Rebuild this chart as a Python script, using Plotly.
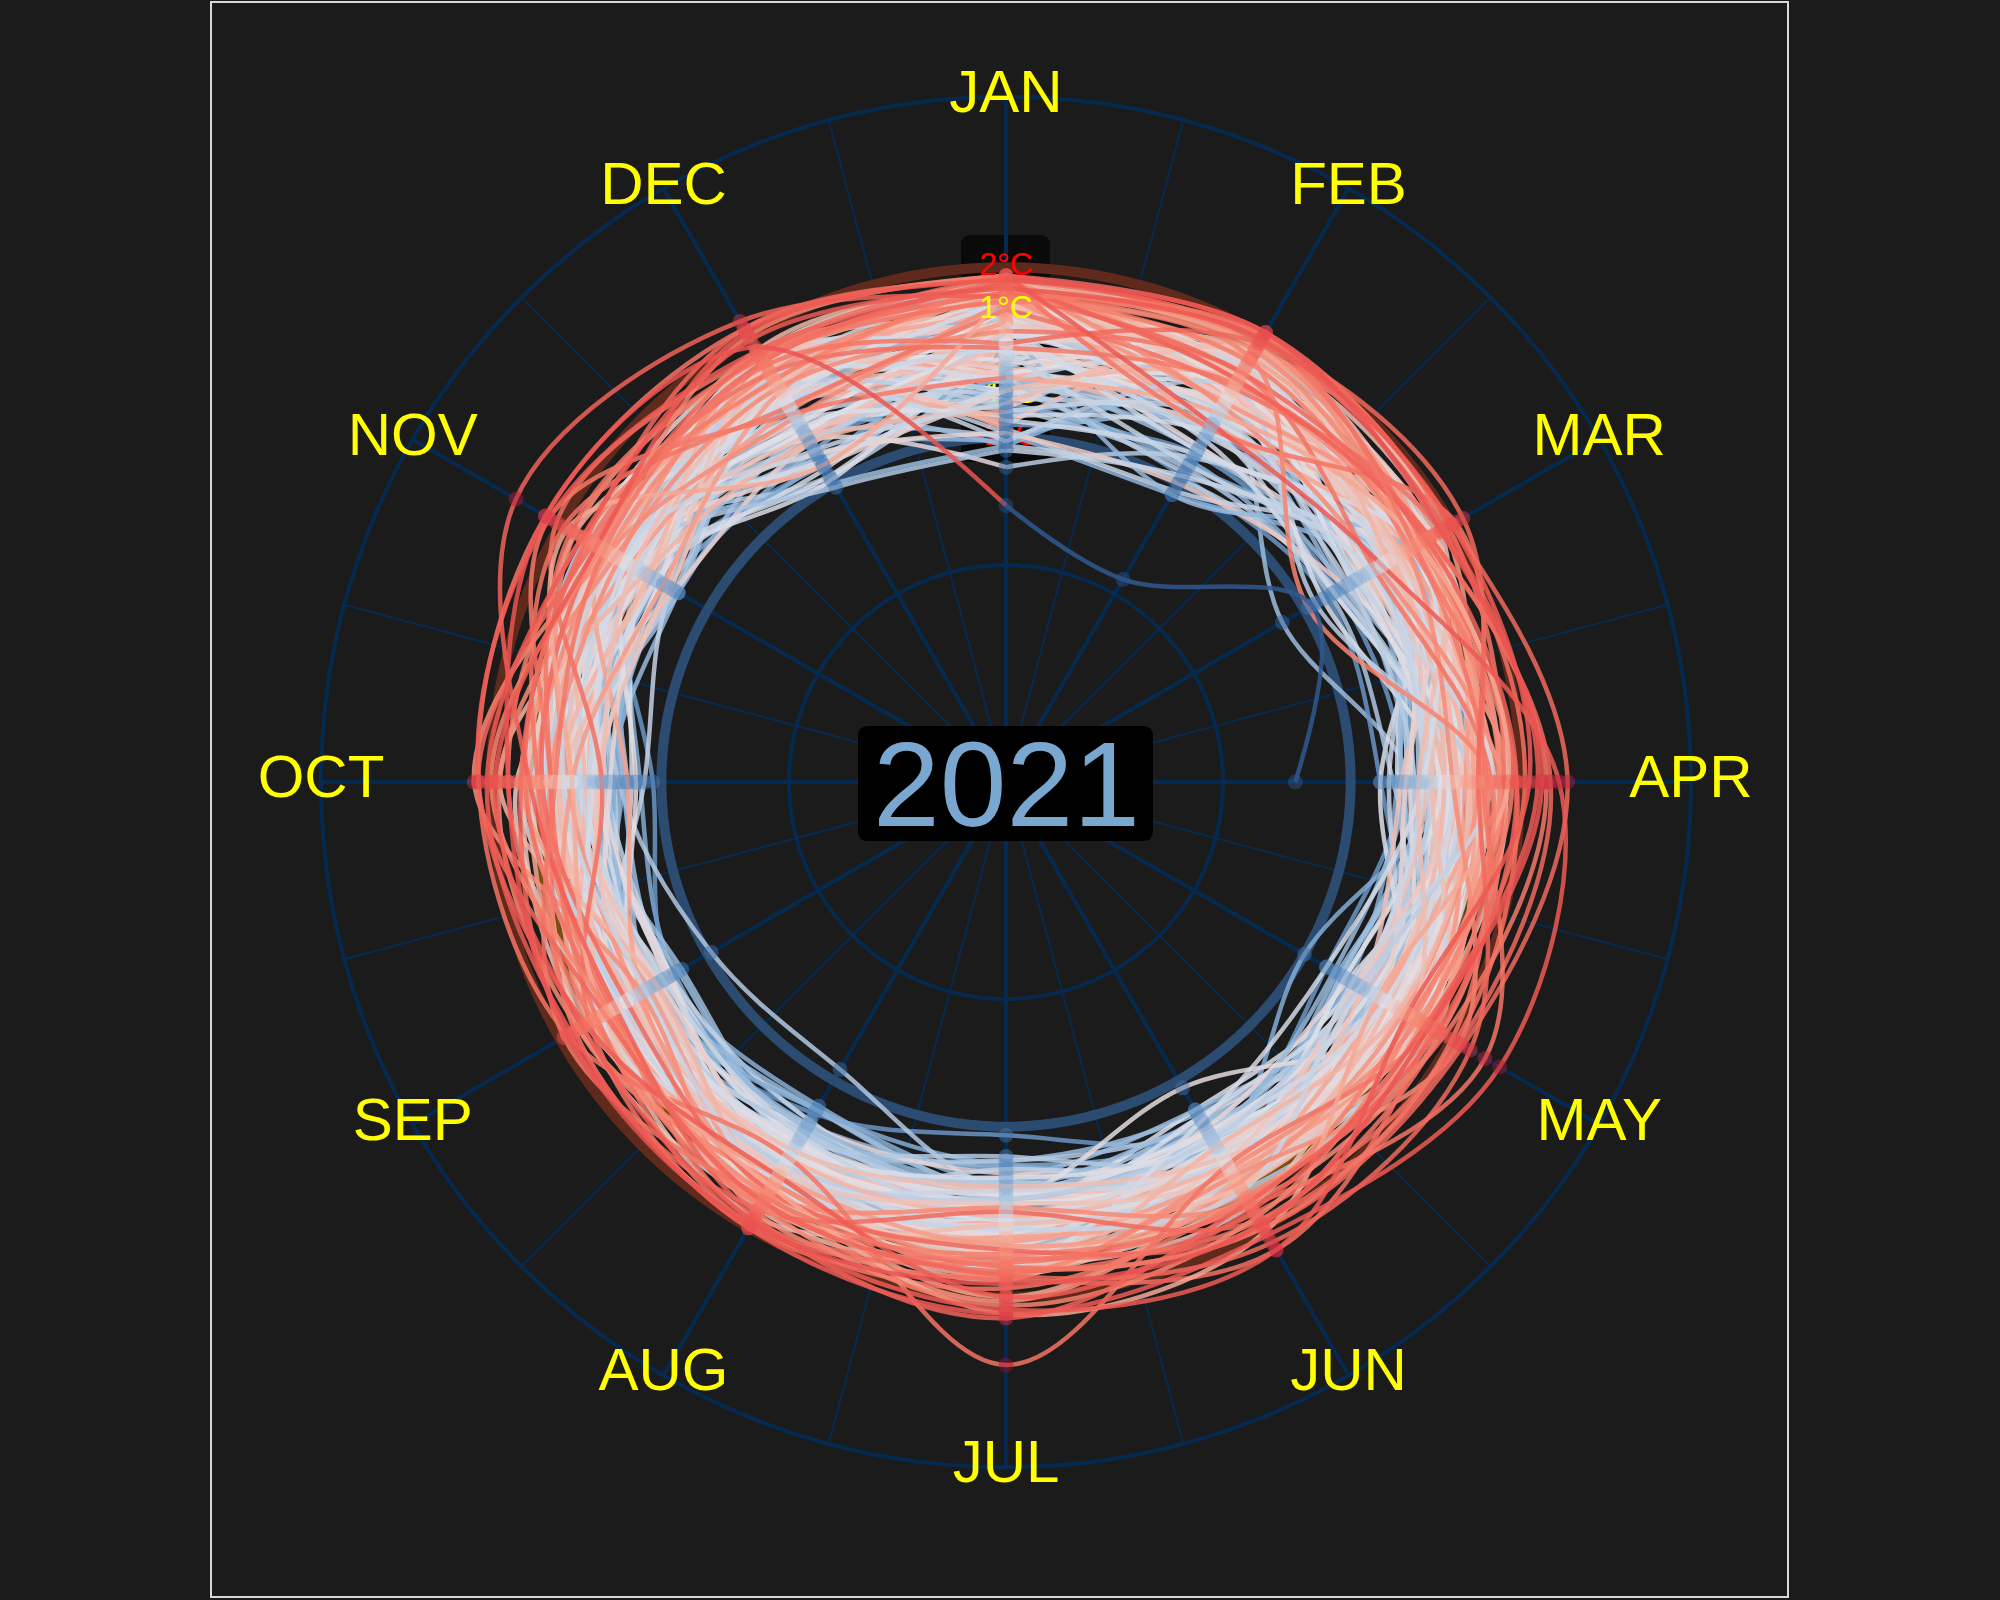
import numpy as np
import plotly.graph_objects as go
from plotly.colors import sample_colorscale

# ---------------- data ----------------
years = list(range(1881, 2022))
month_names = ["JAN", "FEB", "MAR", "APR", "MAY", "JUN",
               "JUL", "AUG", "SEP", "OCT", "NOV", "DEC"]

# monthly temperature anomalies (°C), one value per year 1881..2020 (+2021 for Jan-Apr)
jan = [-1.5, 0.5, 0.8, 0.6, -0.9, -1.2, -1.7, -0.6, -0.8, 0.6,
       -2.2, -0.7, -2.1, -1.0, -1.9, -0.5, -1.1, 1.1, 0.9, 0.0,
       -0.4, 0.2, 0.6, -0.9, 0.1, 0.4, -0.3, -1.0, -0.6, 0.6,
       0.1, 0.7, 0.9, -0.2, 0.5, 1.6, -1.3, 0.0, 0.8, 1.3,
       1.2, -0.5, 0.9, -1.1, 1.5, 0.2, 0.6, 0.3, -1.8, 1.4,
       0.0, 1.3, -0.4, 0.8, 0.6, 1.2, -0.6, 0.7, 0.4, -2.7,
       -2.0, -2.2, 0.9, 1.4, -1.7, 0.5, -1.9, 1.7, 1.0, -0.5,
       0.6, 0.1, -0.2, -0.6, 0.8, 0.7, 1.1, -0.3, -0.4, 0.5,
       0.2, 0.4, -2.3, -0.9, 1.0, -1.3, 0.6, -0.5, 0.3, -0.8,
       0.4, 0.9, 1.4, 1.6, 1.7, 1.2, 0.2, 0.6, -1.5, -0.7,
       0.1, -0.9, 1.5, 0.9, -1.6, 0.0, -2.1, 1.7, 1.6, 1.7,
       0.7, 1.2, 1.6, 1.3, 1.6, -1.4, -1.2, 1.5, 1.7, 1.4,
       1.3, 1.2, 1.0, 1.4, 1.7, 0.5, 1.8, 1.7, 0.1, -0.6,
       1.4, 1.7, 1.2, 1.8, 1.6, 1.3, 0.2, 1.8, 1.5, 1.7,
       -3.6]
feb = [0.0, 0.3, 0.1, 0.9, 0.6, -1.4, -1.2, -1.8, -1.5, 0.2,
       0.3, -0.2, 0.4, 0.5, -2.3, 0.0, 0.7, 0.6, 0.2, 0.5,
       -1.1, -0.6, 1.3, 0.2, 0.6, 0.4, -0.7, 0.5, -1.0, 0.9,
       0.4, 0.8, 0.9, 1.4, 0.8, 0.6, -1.6, 0.5, -0.3, 1.3,
       0.2, -0.7, 0.5, -0.4, 1.1, 1.5, 0.0, -0.2, -2.2, 0.3,
       -0.5, -0.6, -0.2, 0.4, 1.0, 0.7, 1.2, 0.6, 0.9, -1.3,
       -0.4, -1.9, 0.2, 0.6, 1.6, -1.0, -2.0, 0.7, 1.3, 1.5,
       0.5, -0.3, 0.1, -1.7, 0.4, -2.3, 1.1, 0.9, -0.5, 0.3,
       1.6, 0.2, -1.8, 0.6, -0.4, 1.3, 1.2, 0.9, -0.8, -0.6,
       0.7, 0.8, 0.2, 1.1, 0.5, 1.1, 1.3, -0.1, -0.6, 1.2,
       0.1, 0.8, -0.4, 0.3, -1.2, -1.5, 0.6, 0.9, 1.7, 1.9,
       -1.1, 1.4, 0.5, 0.2, 1.7, -0.2, 1.6, 1.7, 0.8, 1.8,
       1.6, 2.0, 0.6, 1.3, 0.1, 1.0, 2.1, 1.9, 0.7, -0.1,
       1.0, -0.5, 1.4, 1.9, 0.8, 2.0, 1.8, -0.4, 1.9, 2.1,
       -4.6]
mar = [0.2, 0.7, -2.6, 0.6, -0.6, -1.2, -1.1, -1.4, -0.2, 0.3,
       -0.7, -1.0, 0.5, 0.2, -0.1, 0.6, 0.3, -0.3, -0.9, 0.0,
       -0.5, 0.7, 1.3, -0.3, 0.4, -0.4, 0.1, 0.2, -0.9, 0.6,
       0.4, 1.2, 1.0, 0.8, 0.1, -0.2, -1.3, 0.3, 0.2, 1.1,
       0.9, 0.1, 0.3, 0.2, 0.5, 0.6, 0.8, 1.0, 0.4, 0.7,
       -1.2, -0.1, 1.1, 0.6, 0.9, 0.7, -0.3, 1.4, -0.6, 0.5,
       -0.4, -1.1, 1.2, 0.8, 1.3, -0.2, -0.9, 1.1, 0.2, 1.0,
       -0.2, 0.3, 0.6, 0.1, -1.5, 0.8, 1.5, -0.4, 1.2, 0.9,
       1.3, -0.6, 0.2, -0.7, -0.1, 0.4, 1.0, 0.9, -1.2, -0.8,
       -0.5, 1.2, 0.6, 1.0, 0.2, 0.3, 1.4, 0.9, 0.5, 0.1,
       1.5, 0.4, 0.7, 0.6, 0.5, -0.2, -1.7, 0.6, 1.6, 1.8,
       1.0, 1.2, 0.5, 1.4, 0.3, -0.6, 1.7, 1.3, 1.1, 1.0,
       0.8, 1.9, 1.7, 0.9, 0.0, -0.1, 2.0, 1.2, 1.4, 1.1,
       1.4, 2.1, -1.9, 1.8, 1.3, 1.0, 2.3, 0.1, 2.0, 1.7,
       -1.8]
apr = [-0.9, 0.1, -0.6, -0.1, 0.2, 0.3, -0.8, -1.3, -0.5, 0.1,
       -0.6, 0.0, 0.7, 0.8, 0.4, -0.2, 0.1, -0.3, 0.3, -0.7,
       -0.2, 0.3, -1.3, 0.9, 0.5, -0.1, -0.4, -0.9, 0.8, 0.2,
       0.6, 0.3, 0.1, 1.0, 0.2, 0.4, -1.0, -0.2, 0.3, 0.5,
       0.1, -0.8, 0.3, 0.2, -0.1, 1.2, 0.9, 0.4, -1.1, 0.6,
       0.7, 0.4, 1.1, 1.3, 0.5, 0.2, 0.9, 0.3, 0.8, 0.6,
       -0.7, 0.2, 1.5, 1.0, 1.2, 1.4, 1.6, 0.1, 1.7, 0.0,
       0.4, 1.0, 0.3, -0.2, 0.1, -0.4, -0.8, 0.5, 0.9, 0.8,
       1.6, 0.4, 0.6, 0.7, -0.1, 1.1, 0.2, 1.0, 0.5, -0.5,
       0.1, 0.3, -0.6, 0.4, -0.2, 0.5, -0.7, 0.3, 0.2, -0.3,
       0.8, 0.2, 1.0, 0.6, 0.4, -0.2, 0.9, 0.5, -0.1, 0.7,
       -0.3, 0.9, 1.2, 1.0, 0.8, 1.3, -0.4, 1.1, 1.5, 1.6,
       0.4, 1.6, 2.1, 1.8, 1.5, 1.3, 3.1, 1.9, 2.6, 1.7,
       2.7, 1.1, 1.3, 2.4, 1.9, 1.2, 1.0, 2.9, 2.2, 2.5,
       -3.3]
may = [-0.8, -0.2, -0.5, 0.3, -1.1, -0.7, -1.4, 0.5, 0.7, 0.0,
       -0.1, 0.1, -0.4, 0.7, 0.2, -1.0, -0.9, -0.6, -0.5, -0.2,
       -1.0, -2.0, 0.4, 0.7, -0.1, 0.9, 0.3, 0.6, 0.0, 0.2,
       0.5, 0.3, 0.8, -0.6, 0.2, 1.1, 1.5, 1.3, 0.4, 0.9,
       0.6, 1.2, -0.4, 0.4, 0.3, -0.8, 0.1, 0.7, 0.2, 0.8,
       0.5, 0.2, 0.9, -0.3, -0.5, 0.8, 1.4, 0.0, 0.1, 0.3,
       -1.2, 0.6, 0.9, 0.7, 1.2, 1.0, 1.3, 0.8, 0.2, 0.6,
       0.0, 0.7, 1.0, 0.3, -0.9, 0.1, -0.4, 0.4, 0.6, 0.9,
       -0.6, -0.2, 0.3, 1.1, -0.3, 0.5, 0.2, 0.4, 1.0, -0.1,
       0.8, 0.3, 0.5, -0.2, -0.4, 0.1, 0.0, 0.2, 0.7, -0.5,
       0.9, 0.3, 0.1, -0.6, 0.2, 1.4, -0.5, 1.3, 1.6, 1.2,
       -1.4, 1.5, 1.2, 0.7, 0.6, -0.7, 0.9, 1.4, 1.1, 1.7,
       2.2, 1.7, 1.5, 0.9, 1.2, 1.4, 2.3, 2.1, 1.8, 0.0,
       2.2, 2.9, 1.0, 1.3, 1.6, 2.0, 2.5, 3.3, 0.8, 1.4]
jun = [-0.6, -0.9, -0.1, -1.0, 0.1, -0.8, -0.2, -0.5, 0.6, -1.1,
       -0.3, -0.7, 0.0, -0.4, -0.1, 0.3, 0.2, -1.2, -0.6, 0.1,
       0.1, -0.2, -0.5, 0.3, 0.6, 0.0, -0.8, -0.1, -1.2, 0.5,
       0.2, -0.7, -0.3, 0.1, 0.4, -0.6, 1.0, -0.2, 0.2, 0.7,
       0.3, -0.9, -1.0, 0.2, 0.5, -0.7, -0.1, 0.3, 0.4, 0.8,
       0.6, 0.1, -0.1, 0.7, 0.5, 0.4, 0.8, 0.2, 0.3, 0.9,
       -0.4, 0.2, 0.5, 0.1, 0.6, 0.9, 1.2, 0.3, -0.5, 1.3,
       0.4, 0.7, -1.8, 0.0, 0.2, -0.3, 0.9, 0.5, 0.8, 0.6,
       0.3, -0.5, 0.4, 0.6, 0.2, 0.8, 0.5, 0.1, -0.4, 0.7,
       -0.2, 0.4, 0.3, -0.6, 0.6, 1.4, -0.1, -0.3, 0.5, 0.2,
       0.0, 0.9, 0.7, 0.2, -0.5, 0.6, -0.4, 0.3, 0.1, 0.5,
       -0.9, 1.1, 0.6, 0.8, -0.2, 1.0, 0.9, 1.2, 0.4, 1.3,
       0.6, 1.8, 2.6, 1.3, 1.9, 0.3, 2.0, 1.6, 1.2, 2.1,
       1.8, 1.4, 1.7, 1.5, 1.3, 2.0, 2.4, 2.2, 2.6, 1.9]
jul = [-1.1, -0.5, -0.2, 0.3, 0.0, -0.7, -0.1, -1.8, -0.6, -1.2,
       -1.0, -0.3, -0.5, 0.1, -0.8, -0.4, 0.0, -0.1, 0.5, 0.3,
       0.9, -1.1, -0.4, 1.0, 0.7, -0.3, -1.2, 0.1, -0.8, -0.6,
       1.2, -0.5, -0.9, -0.3, 0.0, -0.4, 0.5, -0.2, -1.0, 0.1,
       0.8, -0.6, 0.3, -0.2, 0.1, 0.5, 0.4, 0.7, 0.2, 0.0,
       0.3, 0.6, 0.2, 1.0, 0.8, 0.1, 0.5, -0.3, 0.4, -0.1,
       0.9, 0.3, 0.7, 0.2, 1.1, 1.0, 1.3, -0.5, 0.6, 0.8,
       0.1, 1.2, -0.3, -1.3, 0.7, -0.6, 0.4, 0.6, 1.5, -0.4,
       -0.5, -0.3, 0.5, 0.2, -0.7, -0.1, 0.6, -0.2, 0.8, 0.0,
       0.5, 0.1, 0.4, -0.4, 0.6, 1.2, 0.0, -0.8, -0.1, -0.5,
       0.3, 1.4, 2.0, 0.9, 0.4, 0.2, -0.3, 0.1, -0.6, 0.7,
       1.3, 0.6, -0.2, 2.1, 1.6, 0.4, 0.3, 0.8, 1.5, -0.1,
       1.5, 1.1, 1.6, 1.0, 1.3, 3.6, 0.9, 1.4, 1.8, 2.4,
       0.0, 1.2, 2.2, 2.0, 2.5, 1.3, 1.5, 2.4, 2.3, 1.7]
aug = [-0.7, -1.2, -0.1, 0.5, -0.6, -0.2, -0.9, -1.1, -1.3, -0.5,
       -0.8, 0.4, -0.4, -0.9, 0.1, -1.2, 0.3, 0.2, 0.0, -0.3,
       -0.3, -1.2, -0.7, 0.6, 0.2, 0.5, -0.5, 0.3, 0.1, -0.4,
       1.5, -2.3, -0.8, 0.2, -0.4, -0.6, 0.0, 0.4, 0.6, -0.1,
       0.2, -0.7, 0.8, -0.2, -0.3, 0.4, 0.1, 0.3, 0.5, 0.6,
       0.4, 1.1, 0.7, 0.2, 0.9, 0.6, 0.8, 0.5, 0.3, -0.2,
       0.0, 0.9, 1.0, 1.3, 0.7, 0.4, 1.4, 0.2, 0.1, 0.6,
       0.3, 0.8, 0.1, -0.4, 1.0, -0.8, 0.5, -0.1, 1.2, -0.3,
       0.2, -0.6, 0.4, 0.1, -0.2, -0.4, 0.3, 0.0, 0.2, 0.5,
       0.6, 0.2, 1.0, -0.3, 1.2, 0.9, 0.1, -0.2, -0.4, 0.5,
       0.7, 1.3, 0.9, 0.6, 0.2, -0.5, 0.3, 0.1, -0.1, 1.0,
       0.8, 1.4, 0.5, 1.1, 0.9, 0.7, 1.7, 0.6, 0.8, 1.1,
       1.6, 1.8, 2.0, 1.4, 0.8, 0.1, 1.0, 1.3, 1.9, 0.9,
       1.5, 1.9, 1.4, 0.6, 1.7, 1.2, 1.3, 2.0, 1.8, 1.9]
sep = [-1.1, -0.2, 0.0, 0.3, -0.5, 0.1, -1.0, -0.1, -0.8, -1.3,
       0.2, -0.1, -1.2, -1.0, 0.7, -0.6, -0.4, 0.5, 0.0, -0.7,
       -0.6, -0.2, 0.4, -0.3, -0.1, 0.0, -0.8, 0.2, -0.4, -0.9,
       0.1, -2.1, -0.2, 0.3, -0.6, 0.2, 0.9, -0.5, 0.7, 0.4,
       0.8, -0.9, -0.3, 0.0, -0.1, 0.3, -0.5, 1.1, 0.7, 0.2,
       -1.0, 0.6, 0.4, 0.5, 0.2, -0.2, 0.1, 0.3, 0.9, -0.3,
       0.2, 0.4, 0.6, 0.9, 0.3, -0.1, 1.4, 1.0, 1.2, 0.0,
       0.6, -1.0, 0.2, 0.3, 0.4, -0.6, -0.2, 0.5, 1.1, 0.1,
       1.3, 0.2, -0.4, 0.5, -0.3, 0.6, -0.1, 0.0, 0.3, 0.1,
       -0.2, -0.9, 0.4, -0.1, 0.5, -0.6, -0.7, -0.2, 0.3, 0.4,
       0.7, 1.0, 0.6, -0.5, 0.9, -0.8, 0.3, 0.1, 0.2, -0.4,
       0.9, -0.2, 0.0, -0.1, -0.6, -0.3, 0.8, 1.2, 1.5, 0.6,
       -0.2, 0.6, 1.2, 1.1, 1.5, 1.8, 0.2, 0.7, 1.6, 0.8,
       1.8, 1.0, 0.7, 1.3, 0.5, 1.9, 0.8, 1.7, 1.4, 1.8]
oct = [-1.5, -0.6, -0.1, 0.1, -1.2, -0.7, -1.8, -0.9, -0.2, 0.0,
       0.3, -1.0, 0.2, -0.5, -1.1, -0.8, -0.3, 0.6, -0.9, -0.1,
       0.4, -0.9, 0.7, -0.4, -1.3, 1.2, 1.0, 1.3, 0.2, 0.5,
       -0.3, -1.0, 0.3, -0.1, -0.6, 0.7, -0.8, -0.2, -1.6, 0.1,
       1.4, -1.1, 0.0, 0.6, -0.5, -0.2, 0.5, 0.3, 0.8, 0.4,
       -0.7, 0.2, 0.1, 0.6, 0.3, -0.4, 0.8, 0.5, -0.1, 0.7,
       -0.6, 0.9, 0.1, 0.3, 0.4, 0.2, 0.6, 0.5, 1.1, 0.7,
       0.0, -0.5, 0.8, 0.2, 0.3, -0.8, 0.4, 0.6, 0.1, 0.5,
       1.2, 0.3, 0.6, -0.2, 0.1, 1.0, 0.9, 0.4, 0.7, 0.0,
       0.2, -0.6, -0.8, -1.4, 0.5, 0.1, 0.9, 0.4, 0.7, -0.3,
       0.1, -0.2, 0.6, 0.8, 0.5, -0.1, 0.7, 0.4, 0.3, 1.3,
       -0.4, -1.2, -0.5, 0.2, 1.8, 0.3, -0.6, 0.1, 0.6, 0.9,
       2.4, 0.9, -0.6, 1.6, 1.8, 2.3, 0.8, 1.2, 0.6, 0.1,
       1.3, 0.6, 2.0, 2.3, 1.1, 0.5, 2.3, 2.1, 1.9, 1.6]
nov = [-0.1, 0.5, -0.2, -0.8, 0.3, 0.0, 0.2, -0.6, -1.1, 0.4,
       -0.7, -0.4, -1.2, 0.6, 0.1, -1.2, 0.0, 0.7, 0.9, 0.3,
       -0.6, -0.9, 0.2, 0.5, -0.3, 0.7, 0.1, -0.4, -1.2, 0.3,
       0.6, 0.4, 1.3, 0.8, -0.7, 0.2, 0.9, 0.0, -1.0, -0.4,
       -1.1, 0.1, 0.5, 0.4, -0.6, 1.0, -0.2, 1.1, 0.6, 1.6,
       0.3, 0.7, -0.3, 0.5, 0.9, 0.1, 0.4, 1.2, 0.8, 0.6,
       0.0, 0.5, 0.3, 0.6, 0.2, 0.9, 0.7, 0.4, 1.1, 0.8,
       0.3, -0.7, 1.2, 0.4, 0.0, -0.9, 0.8, 0.5, -0.2, 0.7,
       0.1, 0.3, 1.3, 0.6, -1.1, -0.3, -0.1, 0.2, 0.9, 1.0,
       -0.2, 0.4, -0.4, 0.2, -0.5, 0.5, 0.8, 1.1, 0.0, -0.1,
       0.4, 1.3, 0.6, 1.0, -0.6, 0.3, 0.2, -0.4, -1.0, 0.1,
       0.2, 0.9, -0.9, 1.6, -0.3, 0.5, 0.0, -0.8, 0.4, 0.7,
       0.7, 1.9, 2.1, 1.4, 0.5, 2.4, 1.0, 1.2, 2.3, 1.8,
       1.3, 1.7, 0.9, 2.3, 3.2, 0.8, 1.1, 1.4, 1.0, 2.4]
dec = [0.6, 0.8, -0.7, 0.3, -0.5, 0.2, -0.9, -1.5, -1.1, -2.0,
       0.1, -1.2, -0.6, 0.5, -1.3, 0.3, 0.9, 0.6, -1.8, 0.7,
       -0.7, -1.4, 0.3, 0.7, 0.4, -0.5, 0.9, 0.2, 0.6, 1.3,
       1.5, 0.8, 0.9, -0.3, 1.4, -0.6, -1.3, 1.1, 0.2, 0.5,
       -0.9, 0.6, -0.5, 0.7, -1.6, -0.2, -1.8, 0.8, 1.3, 0.1,
       0.4, 1.0, -1.9, 1.6, 0.3, 0.7, 0.2, -1.4, -0.8, -0.7,
       -0.4, 0.5, 0.8, 0.3, -0.9, -1.2, 0.6, 1.1, 0.9, -0.3,
       0.2, 0.7, 1.3, 1.0, 0.4, 0.1, 0.8, -0.5, 1.2, 0.6,
       -0.8, -2.1, -0.2, -0.4, 0.5, 0.9, 0.3, -0.6, -1.4, -0.9,
       1.0, 0.4, 0.6, 1.5, 1.2, -0.7, 1.3, -0.3, 0.8, 0.2,
       -1.5, 0.7, 1.0, 0.5, 1.4, 0.6, 0.9, 1.6, 1.1, 0.0,
       0.3, 0.8, 1.2, 1.4, -0.9, -1.1, 0.7, 0.5, 1.3, 1.0,
       -0.2, 0.1, 1.5, 0.8, 0.6, 2.2, 1.3, 1.0, -0.1, -1.5,
       2.2, 1.4, 2.0, 1.6, 2.4, 1.2, 1.5, 1.9, 2.1, 1.7]

monthly = [jan, feb, mar, apr, may, jun, jul, aug, sep, oct, nov, dec]

ref_levels = [2, 1, -2]
ref_colors = ["#5f2a1c", "#7d4c12", "#2b4b70"]
temp_labels = ["2°C", "1°C", "0°C", "-1°C", "-2°C"]
temp_label_vals = [2, 1, 0, -1, -2]
temp_label_colors = ["#ff0000", "#ffff00", "#ffffff", "#ffff00", "#ff0000"]
current_year_label = "2021"

# ---------------- styling ----------------
W, H = 2000, 1600
BG = "#1b1b1b"
GRID = "#062a4f"
R_MIN, R_MAX = -10.1, 6.0
CMIN, CMAX = -3.5, 3.5
FONT = "Liberation Sans, Arial, sans-serif"


def stop(v):
    return (v - CMIN) / (CMAX - CMIN)


cscale = [
    [stop(-3.5), "rgb(45,85,140)"],
    [stop(-1.2), "rgb(80,130,185)"],
    [stop(-0.4), "rgb(150,185,220)"],
    [stop(0.2), "rgb(226,226,233)"],
    [stop(0.7), "rgb(246,170,150)"],
    [stop(1.2), "rgb(246,128,108)"],
    [stop(1.8), "rgb(236,88,82)"],
    [stop(2.6), "rgb(210,45,65)"],
    [stop(3.5), "rgb(160,16,48)"],
]


def color_of(v, alpha):
    c = sample_colorscale(cscale, [stop(min(max(v, CMIN), CMAX))])[0]
    return c.replace("rgb(", "rgba(").replace(")", f",{alpha})")


fig = go.Figure()

# month spokes (thicker)
sp_r, sp_t = [], []
for k in range(12):
    sp_r += [R_MIN, R_MAX, None]
    sp_t += [k * 30, k * 30, None]
fig.add_trace(go.Scatterpolar(r=sp_r, theta=sp_t, mode="lines",
                              line=dict(color=GRID, width=4), hoverinfo="skip"))

# reference rings
ring_theta = np.linspace(0, 360, 181)
for lvl, col in zip(ref_levels, ref_colors):
    fig.add_trace(go.Scatterpolar(r=[lvl] * len(ring_theta), theta=ring_theta, mode="lines",
                                  line=dict(color=col, width=10), hoverinfo="skip"))

# lower temperature labels (partly hidden by the spiral)
fig.add_trace(go.Scatterpolar(r=temp_label_vals[2:], theta=[0] * 3, mode="text",
                              text=temp_labels[2:], textposition="middle center",
                              textfont=dict(size=32, color=temp_label_colors[2:], family=FONT),
                              hoverinfo="skip", cliponaxis=False))

# spiral: one trace per year
n_years = len(years)
for i, yr in enumerate(years):
    vals = [m[i] for m in monthly if i < len(m)]
    theta = [k * 30 for k in range(len(vals))]
    r = list(vals)
    sizes = [15] * len(vals)
    mcol = list(vals)
    if i + 1 < n_years and len(vals) == 12:
        r.append(jan[i + 1])
        theta.append(360)
        sizes.append(0)
        mcol.append(jan[i + 1])
    mean_v = float(np.mean(vals))
    fig.add_trace(go.Scatterpolar(
        r=r, theta=theta, mode="lines+markers",
        line=dict(color=color_of(mean_v, 0.85), width=4.5, shape="spline", smoothing=1.0),
        marker=dict(size=sizes, color=mcol, colorscale=cscale, cmin=CMIN, cmax=CMAX,
                    opacity=0.45, line=dict(width=0)),
        hoverinfo="skip"))

# upper temperature labels
fig.add_trace(go.Scatterpolar(r=temp_label_vals[:2], theta=[0] * 2, mode="text",
                              text=temp_labels[:2], textposition="middle center",
                              textfont=dict(size=32, color=temp_label_colors[:2], family=FONT),
                              hoverinfo="skip", cliponaxis=False))

# month labels centered on the outer ring
fig.add_trace(go.Scatterpolar(r=[R_MAX] * 12, theta=[k * 30 for k in range(12)], mode="text",
                              text=month_names, textposition="middle center",
                              textfont=dict(size=60, color="#ffff00", family=FONT),
                              hoverinfo="skip", cliponaxis=False))

cx, cy, rad_px = 1006, 782, 685
fig.update_layout(
    width=W, height=H,
    margin=dict(l=0, r=0, t=0, b=0),
    paper_bgcolor=BG,
    showlegend=False,
    polar=dict(
        domain=dict(x=[(cx - rad_px) / W, (cx + rad_px) / W],
                    y=[1 - (cy + rad_px) / H, 1 - (cy - rad_px) / H]),
        bgcolor="rgba(0,0,0,0)",
        radialaxis=dict(range=[R_MIN, R_MAX], tickvals=[-5], showticklabels=False,
                        ticks="", showline=False, gridcolor=GRID, gridwidth=4,
                        layer="below traces"),
        angularaxis=dict(rotation=90, direction="clockwise",
                         tickvals=list(range(0, 360, 15)), showticklabels=False, ticks="",
                         gridcolor=GRID, gridwidth=2, showline=True,
                         linecolor=GRID, linewidth=4, layer="below traces"),
    ),
)


def rrect_path(x0, y0, x1, y1, rr):
    def P(x, y):
        return f"{x / W:.5f},{1 - y / H:.5f}"
    return (f"M {P(x0 + rr, y0)} L {P(x1 - rr, y0)} Q {P(x1, y0)} {P(x1, y0 + rr)} "
            f"L {P(x1, y1 - rr)} Q {P(x1, y1)} {P(x1 - rr, y1)} L {P(x0 + rr, y1)} "
            f"Q {P(x0, y1)} {P(x0, y1 - rr)} L {P(x0, y0 + rr)} Q {P(x0, y0)} {P(x0 + rr, y0)} Z")


fig.add_shape(type="path", path=rrect_path(961, 235, 1050, 462, 10), xref="paper", yref="paper",
              fillcolor="rgba(0,0,0,0.6)", line=dict(width=0), layer="below")
fig.add_shape(type="path", path=rrect_path(858, 726, 1153, 841, 10), xref="paper", yref="paper",
              fillcolor="#000000", line=dict(width=0), layer="above")
fig.add_shape(type="rect", x0=211 / W, x1=1788 / W, y0=1 - 1597 / H, y1=1 - 2 / H,
              xref="paper", yref="paper", line=dict(color="#d9d9d9", width=2), layer="above")

fig.add_annotation(x=cx / W, y=1 - 784 / H, xref="paper", yref="paper", text=current_year_label,
                   showarrow=False, xanchor="center", yanchor="middle",
                   font=dict(size=120, color="#7aa7cf", family=FONT))

fig.write_html("out.html")
